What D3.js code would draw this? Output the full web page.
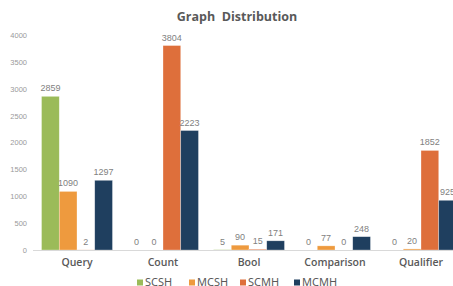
<!DOCTYPE html>
<html>
<head>
<meta charset="utf-8">
<script src="https://cdn.jsdelivr.net/npm/d3@7"></script>
<style>
  body { margin: 0; background: #fff; }
  svg { display: block; font-family: "Noto Sans", "Open Sans", sans-serif; }
</style>
</head>
<body>
<div id="chart"></div>
<script>
// chart data
var categories = ['Query', 'Count', 'Bool', 'Comparison', 'Qualifier'];
var seriesNames = ['SCSH', 'MCSH', 'SCMH', 'MCMH'];
var scsh = [2859, 0, 5, 0, 0];
var mcsh = [1090, 0, 90, 77, 20];
var scmh = [2, 3804, 15, 0, 1852];
var mcmh = [1297, 2223, 171, 248, 925];
var yTicks = [0, 500, 1000, 1500, 2000, 2500, 3000, 3500, 4000];

var width = 453, height = 286;
var colors = ['#9bbb59', '#ee9a3e', '#de6f3b', '#1f3f5f'];

var seriesValues = [scsh, mcsh, scmh, mcmh];
var rows = categories.map(function (c, i) {
  return {
    cat: c,
    values: seriesNames.map(function (s, j) { return { key: s, value: seriesValues[j][i] }; })
  };
});

var svg = d3.select('#chart')
  .append('svg')
  .attr('width', width)
  .attr('height', height);

// scales
var x0 = d3.scaleBand()
  .domain(categories)
  .range([34, 464])
  .paddingInner(0.175)
  .paddingOuter(0.0875);

var x1 = d3.scaleBand()
  .domain(seriesNames)
  .range([0, x0.bandwidth()]);

var y = d3.scaleLinear()
  .domain([0, 4000])
  .range([250, 35]);

var color = d3.scaleOrdinal().domain(seriesNames).range(colors);

// title
svg.append('text')
  .attr('x', 237)
  .attr('y', 21)
  .attr('text-anchor', 'middle')
  .attr('font-size', 12.5)
  .attr('font-weight', 'bold')
  .attr('font-family', '"Open Sans", sans-serif')
  .attr('fill', '#595959')
  .attr('xml:space', 'preserve')
  .text('Graph  Distribution');

// y axis tick labels (no line)
var yAxis = svg.append('g')
  .attr('transform', 'translate(27,0)')
  .call(d3.axisLeft(y).tickValues(yTicks).tickSize(0).tickPadding(0).tickFormat(d3.format('d')));
yAxis.select('.domain').remove();
yAxis.selectAll('text')
  .attr('font-size', 7.5)
  .attr('font-family', '"Liberation Sans", Arial, sans-serif')
  .attr('fill', '#9a9a9a');

// bars
var groups = svg.selectAll('.group')
  .data(rows)
  .enter().append('g')
  .attr('class', 'group')
  .attr('transform', function (d) { return 'translate(' + x0(d.cat) + ',0)'; });

groups.selectAll('rect')
  .data(function (d) { return d.values; })
  .enter().append('rect')
  .attr('x', function (d) { return x1(d.key); })
  .attr('y', function (d) { return y(d.value); })
  .attr('width', x1.bandwidth())
  .attr('height', function (d) { return y(0) - y(d.value); })
  .attr('fill', function (d) { return color(d.key); })
  .attr('stroke', '#ffffff')
  .attr('stroke-opacity', 0.5)
  .attr('stroke-width', 0.6);

groups.selectAll('.val')
  .data(function (d) { return d.values; })
  .enter().append('text')
  .attr('class', 'val')
  .attr('x', function (d) { return x1(d.key) + x1.bandwidth() / 2; })
  .attr('y', function (d) { return y(d.value) - 5; })
  .attr('text-anchor', 'middle')
  .attr('font-size', 9)
  .attr('font-family', '"Liberation Sans", Arial, sans-serif')
  .attr('fill', '#7f7f7f')
  .text(function (d) { return d.value; });

// x axis baseline and category labels
var xAxis = svg.append('g')
  .attr('transform', 'translate(0,' + y(0) + ')')
  .call(d3.axisBottom(x0).tickSize(0).tickPadding(9));
xAxis.select('.domain')
  .attr('stroke', '#d9d9d9')
  .attr('d', 'M33,0.5H' + width);
xAxis.selectAll('text')
  .attr('font-size', 10.5)
  .attr('font-weight', 600)
  .attr('font-family', '"Open Sans", sans-serif')
  .attr('fill', '#595959');

// legend
var legendX = [137, 189, 240, 294];
var legend = svg.selectAll('.legend')
  .data(seriesNames)
  .enter().append('g')
  .attr('class', 'legend')
  .attr('transform', function (d, i) { return 'translate(' + legendX[i] + ',278)'; });

legend.append('rect')
  .attr('y', 1.5)
  .attr('width', 6)
  .attr('height', 6)
  .attr('fill', function (d) { return color(d); });

legend.append('text')
  .attr('x', 8)
  .attr('y', 7.5)
  .attr('font-size', 11)
  .attr('font-family', '"Noto Sans", sans-serif')
  .attr('fill', '#595959')
  .text(function (d) { return d; });
</script>
</body>
</html>
